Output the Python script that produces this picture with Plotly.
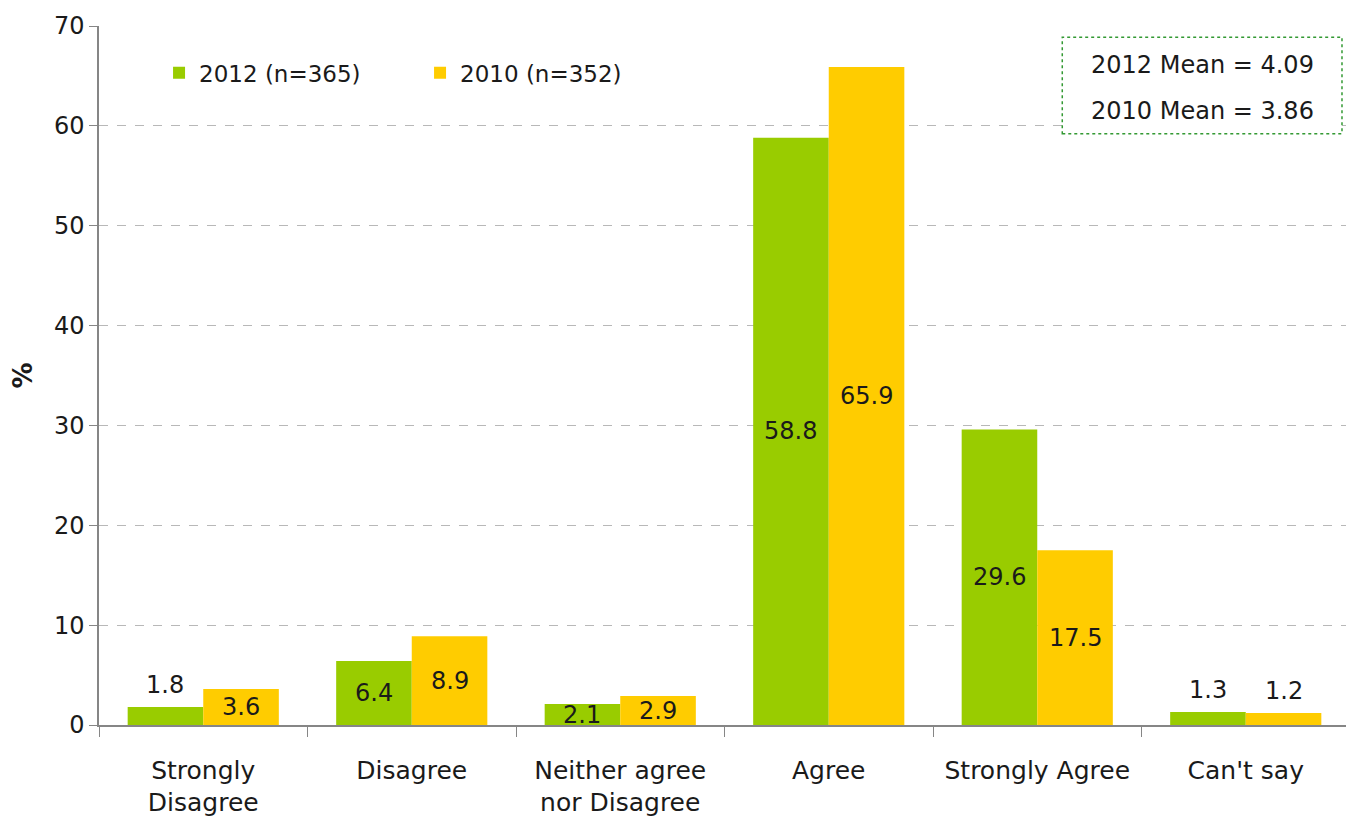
import plotly.graph_objects as go

categories = ["Strongly<br>Disagree", "Disagree", "Neither agree<br>nor Disagree", "Agree", "Strongly Agree", "Can't say"]
values_2012 = [1.8, 6.4, 2.1, 58.8, 29.6, 1.3]
values_2010 = [3.6, 8.9, 2.9, 65.9, 17.5, 1.2]
series_names = ["2012 (n=365)", "2010 (n=352)"]
mean_lines = ["2012 Mean = 4.09", "2010 Mean = 3.86"]
y_ticks = [0, 10, 20, 30, 40, 50, 60, 70]

FONT = "DejaVu Sans"
TXT = "#1a1a1a"
colors = ["#99CC00", "#FFCC00"]

W, H = 1346, 817          # page body has an 8px margin
ML, MR, MT, MB = 90, 4, 14, 100
plot_w = W - ML - MR
BARGAP = 0.275
bar_w_px = plot_w / len(categories) * (1 - BARGAP) / 2

fig = go.Figure()
for name, vals, col in zip(series_names, [values_2012, values_2010], colors):
    fig.add_trace(go.Bar(
        x=categories, y=vals, name=name, marker=dict(color=col, line=dict(width=0)),
        cliponaxis=False,
    ))

# data labels
for si, vals in enumerate([values_2012, values_2010]):
    shift = (-0.5 if si == 0 else 0.5) * bar_w_px
    for c, v in zip(categories, vals):
        if v < 2:
            fig.add_annotation(x=c, y=v, xshift=shift, yshift=6, yanchor="bottom",
                               text=f"{v:.1f}", showarrow=False,
                               font=dict(family=FONT, size=24, color=TXT))
        else:
            fig.add_annotation(x=c, y=v / 2, xshift=shift, yanchor="middle",
                               text=f"{v:.1f}", showarrow=False,
                               font=dict(family=FONT, size=24, color=TXT))

fig.update_layout(
    width=W, height=H,
    margin=dict(l=ML, r=MR, t=MT, b=MB),
    paper_bgcolor="white", plot_bgcolor="white",
    barmode="group", bargap=BARGAP, bargroupgap=0,
    font=dict(family=FONT, size=24, color=TXT),
    legend=dict(orientation="h", x=0.048, y=0.933, xanchor="left", yanchor="middle",
                font=dict(family=FONT, size=23, color=TXT), entrywidth=216,
                bgcolor="rgba(0,0,0,0)"),
    xaxis=dict(showline=True, linecolor="#868686", linewidth=1.5,
               ticks="outside", tickson="boundaries", ticklen=10, tickcolor="#868686",
               ticklabelstandoff=22,
               tickfont=dict(family=FONT, size=25, color=TXT), showgrid=False),
    yaxis=dict(range=[0, 70], tickvals=y_ticks, showline=True, linecolor="#868686", linewidth=1.5,
               ticks="outside", ticklen=8, tickcolor="#868686",
               tickfont=dict(family=FONT, size=24, color=TXT),
               showgrid=True, gridcolor="#b8b8b8", griddash="dash", gridwidth=1,
               zeroline=False,
               title=dict(text="<b>%</b>", font=dict(family=FONT, size=26, color=TXT), standoff=24)),
)

fig.add_shape(type="rect", xref="paper", yref="paper", x0=0.770, x1=0.9936, y0=0.846, y1=0.984,
              line=dict(color="#339933", width=1.5, dash="dot"), fillcolor="white", layer="above")
fig.add_annotation(xref="paper", yref="paper", x=0.882, y=0.9445, xanchor="center", yanchor="middle",
                   text=mean_lines[0], showarrow=False, font=dict(family=FONT, size=24, color=TXT))
fig.add_annotation(xref="paper", yref="paper", x=0.882, y=0.8777, xanchor="center", yanchor="middle",
                   text=mean_lines[1], showarrow=False, font=dict(family=FONT, size=24, color=TXT))

fig.write_html("out.html")
